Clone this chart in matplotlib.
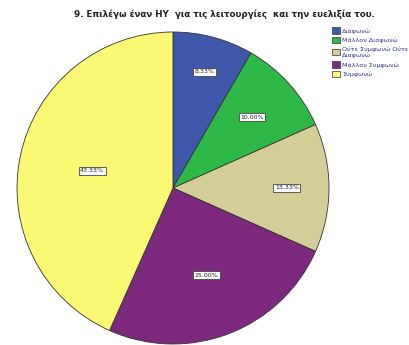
import matplotlib
matplotlib.use("Agg")
import matplotlib.pyplot as plt
import numpy as np

title = "9. Επιλέγω έναν ΗΥ  για τις λειτουργίες  και την ευελιξία του."
categories = ["Διαφωνώ", "Μάλλον Διαφωνώ", "Ούτε Συμφωνώ Ούτε\nΔιαφωνώ",
              "Μάλλον Συμφωνώ", "Συμφωνώ"]
percents = [8.33, 10.00, 13.33, 25.00, 43.33]
colors = ["#3e58ac", "#2eb848", "#d3ce97", "#7c287d", "#fbf873"]
label_radius = [0.77, 0.68, 0.73, 0.60, 0.53]

fig = plt.figure(figsize=(4.10, 3.45), dpi=100)
ax = fig.add_axes([17 / 410, 1 / 345, 312 / 410, 312 / 345])

wedges, _ = ax.pie(percents, colors=colors, startangle=90, counterclock=False,
                   wedgeprops=dict(edgecolor="#333333", linewidth=0.6))

for w, p, r in zip(wedges, percents, label_radius):
    ang = np.deg2rad((w.theta1 + w.theta2) / 2)
    ax.text(r * np.cos(ang), r * np.sin(ang), f"{p:.2f}%", ha="center", va="center",
            fontsize=4.5, color="#222222",
            bbox=dict(boxstyle="square,pad=0.25", fc="white", ec="#444444", lw=0.6))

ax.set_xlim(-1, 1)
ax.set_ylim(-1, 1)
ax.set_aspect("equal")
ax.axis("off")

fig.text(224 / 410, 1 - 14 / 345, title, ha="center", va="center",
         fontsize=6.3, fontweight="bold", color="#222222")

handles = [plt.Rectangle((0, 0), 1, 1, fc=c, ec="#333333", lw=0.5) for c in colors]
fig.legend(handles, categories, loc="upper left", bbox_to_anchor=(328 / 410, 1 - 23 / 345),
           frameon=False, fontsize=4.6, handlelength=1.1, handleheight=1.1,
           handletextpad=0.4, labelspacing=0.5, borderpad=0.2, labelcolor="#333399")

fig.savefig("out.png", dpi=100)
